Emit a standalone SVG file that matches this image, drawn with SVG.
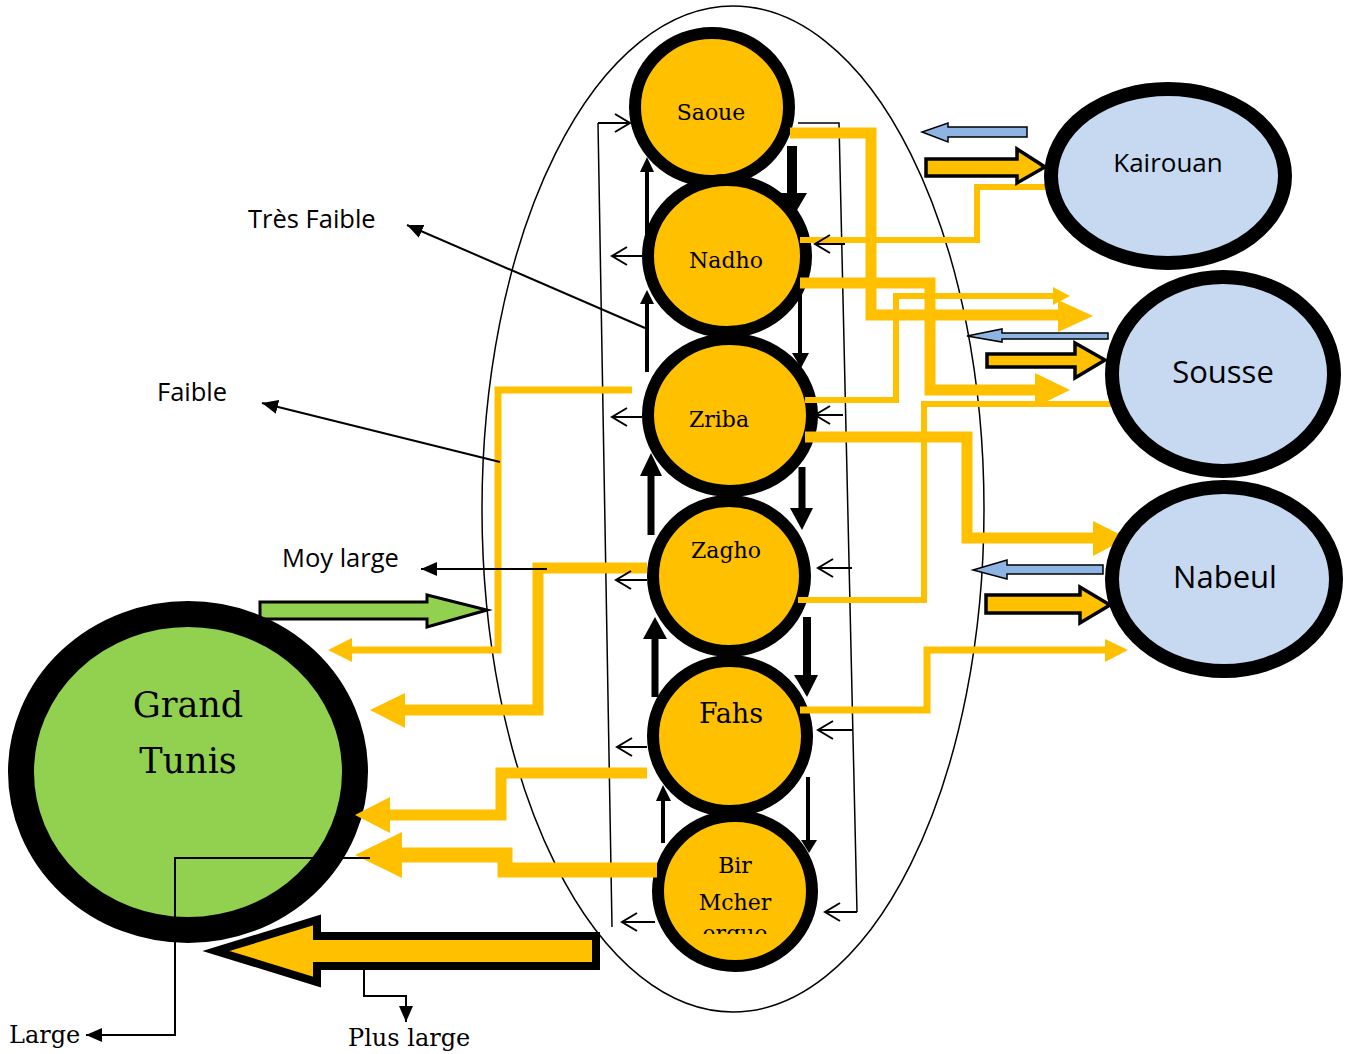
<svg xmlns="http://www.w3.org/2000/svg" width="1354" height="1054" viewBox="0 0 1354 1054">
<defs>
<style>
.on{fill:#FFC000;stroke:#000;stroke-width:12}
.bn{fill:#C6D9F1;stroke:#000;stroke-width:14}
.sl{font-family:"DejaVu Serif","Liberation Serif",serif;fill:#000;text-anchor:middle}
.ss{font-family:"Open Sans","Liberation Sans",sans-serif;fill:#000}
.fl{fill:none;stroke:#FFC000;stroke-linejoin:miter;stroke-linecap:butt}
.oh{fill:#FFC000}
.bk{stroke:#000;fill:none}
.bh{fill:#000}
.sm{stroke:#000;stroke-width:2;fill:none;marker-end:url(#open)}
.ld{stroke:#000;stroke-width:2;fill:none;marker-end:url(#solid)}
</style>
<marker id="open" viewBox="0 0 18 20" refX="16" refY="10" markerWidth="18" markerHeight="20" markerUnits="userSpaceOnUse" orient="auto">
<path d="M1,1 L16,10 L1,19" fill="none" stroke="#000" stroke-width="2"/>
</marker>
<marker id="solid" viewBox="0 0 16 14" refX="16" refY="7" markerWidth="16" markerHeight="14" markerUnits="userSpaceOnUse" orient="auto">
<path d="M0,0 L16,7 L0,14 z" fill="#000"/>
</marker>
<clipPath id="bclip" clipPathUnits="userSpaceOnUse"><rect x="690" y="900" width="100" height="34"/></clipPath>
</defs>
<rect width="1354" height="1054" fill="#fff"/>

<g id="region">
<ellipse cx="733" cy="509" rx="251" ry="503" fill="none" stroke="#000" stroke-width="1.5"/>
<path d="M598,123 L612,927" class="bk" stroke-width="1.5"/>
<path d="M798,123 H839 L857,912" class="bk" stroke-width="1.5"/>
</g>

<g id="inflow-gt">
<polygon points="260,602 427,602 427,595 487,610 427,627 427,619 260,619" fill="#92D050" stroke="#000" stroke-width="3"/>
</g>

<g id="node-grand-tunis">
<ellipse cx="188" cy="772" rx="167" ry="158" fill="#92D050" stroke="#000" stroke-width="26"/>
<text class="sl" x="188" y="717" font-size="35">Grand</text>
<text class="sl" x="188" y="773" font-size="35">Tunis</text>
</g>

<g id="node-saoue">
<ellipse class="on" cx="712" cy="107" rx="77" ry="74"/>
<text class="sl" x="711" y="120" font-size="22">Saoue</text>
</g>
<g id="node-nadho">
<ellipse class="on" cx="727" cy="256" rx="79" ry="76"/>
<text class="sl" x="726" y="268" font-size="22">Nadho</text>
</g>
<g id="node-zriba">
<ellipse class="on" cx="730" cy="415" rx="82" ry="76"/>
<text class="sl" x="719" y="427" font-size="22">Zriba</text>
</g>
<g id="node-zagho">
<ellipse class="on" cx="729" cy="576" rx="76" ry="75"/>
<text class="sl" x="726" y="558" font-size="22">Zagho</text>
</g>
<g id="node-fahs">
<ellipse class="on" cx="730" cy="736" rx="77" ry="75"/>
<text class="sl" x="731" y="723" font-size="27">Fahs</text>
</g>
<g id="node-bir-mcher">
<ellipse class="on" cx="735" cy="891" rx="77" ry="75"/>
<text class="sl" x="735" y="873" font-size="22">Bir</text>
<text class="sl" x="735" y="910" font-size="22">Mcher</text>
<g clip-path="url(#bclip)"><text class="sl" x="735" y="941" font-size="22">ergue</text></g>
</g>

<g id="connectors">
<polyline class="fl" stroke-width="11" points="790,133 871,133 871,315 1058,315"/>
<polygon class="oh" points="1058,300 1093,316 1058,332"/>
<polyline class="fl" stroke-width="11" points="800,283 930,283 930,390 1035,390"/>
<polygon class="oh" points="1035,373 1070,390 1035,407"/>
<polyline class="fl" stroke-width="6" points="800,240 977,240 977,187 1050,187"/>
<polyline class="fl" stroke-width="6" points="805,400 896,400 896,296 1053,296"/>
<polygon class="oh" points="1053,287 1070,296 1053,305"/>
<polyline class="fl" stroke-width="6" points="798,600 924,600 924,404 1115,404"/>
<polyline class="fl" stroke-width="11" points="805,437 967,437 967,538 1093,538"/>
<polygon class="oh" points="1093,521 1127,538 1093,556"/>
<polyline class="fl" stroke-width="7" points="800,710 927,710 927,650 1105,650"/>
<polygon class="oh" points="1105,639 1128,650 1105,662"/>
<polyline class="fl" stroke-width="7" points="632,390 498,390 498,650 352,650"/>
<polygon class="oh" points="352,638 328,650 352,662"/>
<polyline class="fl" stroke-width="11" points="647,568 538,568 538,710 405,710"/>
<polygon class="oh" points="405,693 370,710 405,728"/>
<polyline class="fl" stroke-width="11" points="647,773 501,773 501,815 390,815"/>
<polygon class="oh" points="390,797 355,815 390,833"/>
<polyline class="fl" stroke-width="15" points="657,870 505,870 505,855 402,855"/>
<polygon class="oh" points="402,832 355,855 402,878"/>
<polygon points="596,936 317,936 317,920 216,951 317,982 317,966 596,966" fill="#FFC000" stroke="#000" stroke-width="8" stroke-miterlimit="10"/>
<path class="bk" stroke-width="4" d="M647,250 V170"/><polygon class="bh" points="640,172 647,157 654,172"/>
<path class="bk" stroke-width="4" d="M647,372 V302"/><polygon class="bh" points="640,304 647,290 654,304"/>
<path class="bk" stroke-width="7" d="M651,535 V474"/><polygon class="bh" points="640,476 651,453 662,476"/>
<path class="bk" stroke-width="7" d="M655,697 V637"/><polygon class="bh" points="643,639 655,617 667,639"/>
<path class="bk" stroke-width="4" d="M663,843 V800"/><polygon class="bh" points="656,801 663,785 671,801"/>
<path class="bk" stroke-width="10" d="M792,146 V195"/><polygon class="bh" points="779,193 793,217 807,193"/>
<path class="bk" stroke-width="4" d="M800,290 V354"/><polygon class="bh" points="792,353 801,368 809,353"/>
<path class="bk" stroke-width="7" d="M802,467 V510"/><polygon class="bh" points="790,508 802,530 813,508"/>
<path class="bk" stroke-width="8" d="M807,617 V677"/><polygon class="bh" points="794,675 807,697 818,675"/>
<path class="bk" stroke-width="4" d="M808,777 V842"/><polygon class="bh" points="801,840 809,853 817,840"/>
<path class="sm" d="M598,123 H630"/>
<path class="sm" d="M642,256 H612"/>
<path class="sm" d="M642,417 H612"/>
<path class="sm" d="M647,580 H616"/>
<path class="sm" d="M647,747 H617"/>
<path class="sm" d="M655,922 H622"/>
<path class="sm" d="M845,244 H815"/>
<path class="sm" d="M843,415 H815"/>
<path class="sm" d="M852,568 H818"/>
<path class="sm" d="M852,730 H818"/>
<path class="sm" d="M857,912 H825"/>
<polygon points="1027,127 948,127 948,123 922,132 948,142 948,137 1027,137" fill="#8DB4E2" stroke="#000" stroke-width="1.5"/>
<polygon points="926,159 1017,159 1017,149 1045,167 1017,183 1017,176 926,176" fill="#FFC000" stroke="#000" stroke-width="3.5"/>
<polygon points="1108,333 1002,333 1002,329 967,336 1002,342 1002,339 1108,339" fill="#8DB4E2" stroke="#000" stroke-width="1.5"/>
<polygon points="987,354 1075,354 1075,343 1105,360 1075,378 1075,367 987,367" fill="#FFC000" stroke="#000" stroke-width="3.5"/>
<polygon points="1103,565 1007,565 1007,560 973,570 1007,579 1007,574 1103,574" fill="#8DB4E2" stroke="#000" stroke-width="1.5"/>
<polygon points="986,595 1080,595 1080,587 1110,605 1080,623 1080,613 986,613" fill="#FFC000" stroke="#000" stroke-width="3.5"/>
</g>

<g id="node-kairouan">
<ellipse class="bn" cx="1168" cy="176" rx="117" ry="87"/>
<text class="ss" x="1168" y="172" font-size="26" text-anchor="middle">Kairouan</text>
</g>
<g id="node-sousse">
<ellipse class="bn" cx="1223" cy="374" rx="111" ry="97"/>
<text class="ss" x="1223" y="383" font-size="31" text-anchor="middle">Sousse</text>
</g>
<g id="node-nabeul">
<ellipse class="bn" cx="1224" cy="579" rx="112" ry="92"/>
<text class="ss" x="1225" y="588" font-size="31" text-anchor="middle">Nabeul</text>
</g>

<g id="legend">
<path class="ld" d="M645,328 L407,225"/>
<path class="ld" d="M500,462 L262,403"/>
<path class="ld" d="M547,569 H421"/>
<path class="ld" d="M370,858 H175 V1035 H86"/>
<path class="ld" d="M364,970 V996 H406 V1022"/>
<text class="ss" x="248" y="228" font-size="25.5">Très Faible</text>
<text class="ss" x="157" y="401" font-size="25.5">Faible</text>
<text class="ss" x="282" y="567" font-size="25.5">Moy large</text>
<text x="9" y="1043" font-size="24" font-family="DejaVu Serif, Liberation Serif, serif">Large</text>
<text x="348" y="1046" font-size="24" font-family="DejaVu Serif, Liberation Serif, serif">Plus large</text>
</g>
</svg>
